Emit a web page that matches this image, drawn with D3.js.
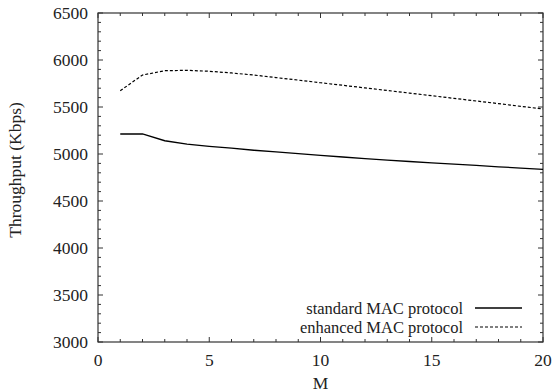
<!DOCTYPE html>
<html><head><meta charset="utf-8">
<script src="https://cdn.jsdelivr.net/npm/d3@7"></script>
<style>body{margin:0;background:#fff}svg{display:block}text{font-family:"Liberation Serif","Times New Roman",serif;fill:#222}</style>
</head><body><svg id="c" width="556" height="392"></svg>
<script>
const M = [1,2,3,4,5,6,7,8,9,10,11,12,13,14,15,16,17,18,19,20];
const standard = [5213,5213,5141,5106,5082,5062,5040,5022,5004,4986,4968,4951,4934,4920,4906,4892,4878,4864,4850,4837];
const enhanced = [5673,5840,5886,5890,5880,5862,5840,5813,5786,5758,5731,5703,5676,5648,5620,5592,5564,5536,5507,5479];
const xTicks = [0,5,10,15,20];
const yTicks = [3000,3500,4000,4500,5000,5500,6000,6500];
const seriesNames = ["standard MAC protocol","enhanced MAC protocol"];

const svg = d3.select("#c");
const L=98, R=543, T=13, B=342;
const x = d3.scaleLinear().domain([0,20]).range([L,R]);
const y = d3.scaleLinear().domain([3000,6500]).range([B,T]);
const axisCol="#333";

// minor ticks
const xMinor = d3.range(0,21,1), yMinor = d3.range(3000,6501,100);
const g = svg.append("g").attr("stroke",axisCol).attr("stroke-width",1);
xMinor.forEach(v=>{
  const len = xTicks.includes(v)?5:3;
  g.append("line").attr("x1",x(v)).attr("x2",x(v)).attr("y1",B).attr("y2",B-len);
  g.append("line").attr("x1",x(v)).attr("x2",x(v)).attr("y1",T).attr("y2",T+len);
});
yMinor.forEach(v=>{
  const len = yTicks.includes(v)?5:3;
  g.append("line").attr("y1",y(v)).attr("y2",y(v)).attr("x1",L).attr("x2",L+len);
  g.append("line").attr("y1",y(v)).attr("y2",y(v)).attr("x1",R).attr("x2",R-len);
});
svg.append("rect").attr("x",L).attr("y",T).attr("width",R-L).attr("height",B-T)
  .attr("fill","none").attr("stroke",axisCol).attr("stroke-width",1.2);

// tick labels
svg.append("g").selectAll("text").data(xTicks).join("text")
  .attr("x",d=>x(d)).attr("y",366).attr("text-anchor","middle").attr("font-size",17.5).text(d=>d);
svg.append("g").selectAll("text").data(yTicks).join("text")
  .attr("x",88).attr("y",d=>y(d)+6).attr("text-anchor","end").attr("font-size",17.5).text(d=>d);

svg.append("text").attr("x",x(10)).attr("y",389).attr("text-anchor","middle").attr("font-size",17.5).text("M");
svg.append("text").attr("transform",`translate(21,170) rotate(-90)`).attr("text-anchor","middle")
  .attr("font-size",17.5).text("Throughput (Kbps)");

const line = d3.line().x((d,i)=>x(M[i])).y(d=>y(d));
svg.append("path").datum(standard).attr("d",line).attr("fill","none").attr("stroke","#000").attr("stroke-width",1.3);
svg.append("path").datum(enhanced).attr("d",line).attr("fill","none").attr("stroke","#000").attr("stroke-width",1.2).attr("stroke-dasharray","3,2");

// legend
const leg = [{n:seriesNames[0],dash:null,ly:308,ty:314},{n:seriesNames[1],dash:"3,2",ly:327,ty:333}];
leg.forEach(d=>{
  svg.append("text").attr("x",463).attr("y",d.ty).attr("text-anchor","end").attr("font-size",16.5).text(d.n);
  const l = svg.append("line").attr("x1",475).attr("x2",522).attr("y1",d.ly).attr("y2",d.ly).attr("stroke","#000").attr("stroke-width",d.dash?1.2:1.3);
  if(d.dash) l.attr("stroke-dasharray",d.dash);
});
</script></body></html>
